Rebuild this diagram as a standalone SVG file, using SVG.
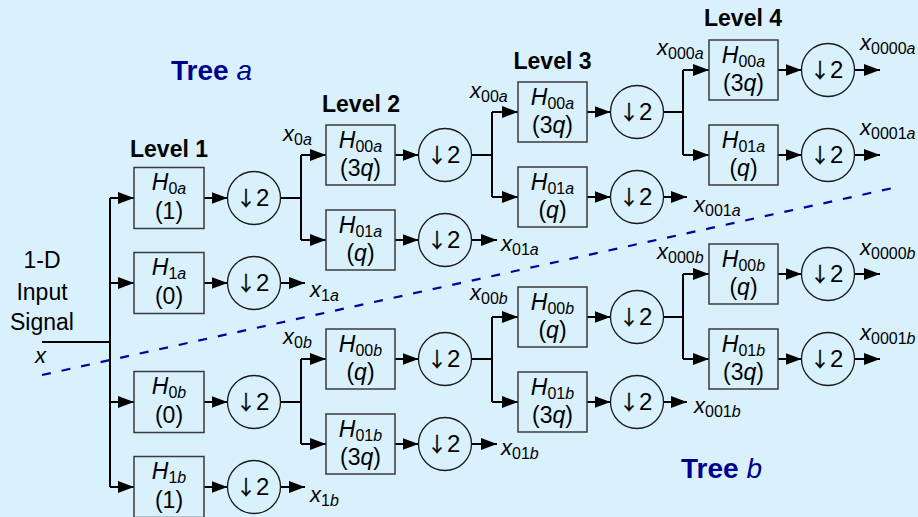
<svg xmlns="http://www.w3.org/2000/svg" width="918" height="517" viewBox="0 0 918 517">
  <defs>
    <marker id="ah" markerUnits="userSpaceOnUse" markerWidth="16" markerHeight="12" refX="16" refY="6" orient="auto">
      <path d="M0,0 L16,6 L0,12 z" fill="#000"/>
    </marker>
    <style>
      text { font-family: "Liberation Sans", Arial, Helvetica, sans-serif; fill: #000; }
      .box { fill: none; stroke: #3a3a3a; stroke-width: 1.5; }
      .dn { fill: none; stroke: #1a1a1a; stroke-width: 1.3; }
      .w { fill: none; stroke: #000; stroke-width: 2; }
      .ar { marker-end: url(#ah); }
      .t { font-size: 23px; text-anchor: middle; }
      .d { font-size: 24px; }
      .d .arw { font-family: "Noto Sans CJK JP", "Noto Sans CJK SC", sans-serif; font-size: 20px; font-weight: 400; stroke: #000; stroke-width: 0.35px; }
      .i { font-style: italic; }
      .s { font-size: 16px; }
      .lv { font-size: 23px; font-weight: bold; text-anchor: middle; }
      .tree { font-size: 28px; font-weight: bold; fill: #00008f; }
      .tree .i { font-weight: normal; }
      .sig { font-size: 23px; text-anchor: middle; }
      .lab { font-size: 22px; }
      .split { fill: none; stroke: #0000a0; stroke-width: 2.2; stroke-dasharray: 9 11; }
    </style>
  </defs>

  <rect width="918" height="517" fill="#d9f1fd"/>

  <!-- headings -->
  <g id="headings">
    <text class="tree" x="171" y="80">Tree <tspan class="i">a</tspan></text>
    <text class="tree" x="681" y="478">Tree <tspan class="i">b</tspan></text>
    <text class="lv" x="169" y="157">Level 1</text>
    <text class="lv" x="361" y="112">Level 2</text>
    <text class="lv" x="552.5" y="69">Level 3</text>
    <text class="lv" x="743" y="26">Level 4</text>
  </g>

  <!-- input -->
  <g id="input">
    <text class="sig" x="42" y="268">1-D</text>
    <text class="sig" x="42" y="300">Input</text>
    <text class="sig" x="42" y="330">Signal</text>
    <text class="lab i" x="35" y="363">x</text>
  </g>

  <!-- boundary between the two trees -->
  <path class="split" d="M42,375 L893,188"/>

  <!-- connectors -->
  <g id="connectors">
    <!-- level 1 -->
    <path class="w" d="M42,342 H110 M110,198 V487"/>
    <path class="w ar" d="M110,198 H134"/>
    <path class="w ar" d="M110,283 H134"/>
    <path class="w ar" d="M110,402 H134"/>
    <path class="w ar" d="M110,487 H134"/>
    <path class="w ar" d="M204,198 H227.5"/>
    <path class="w ar" d="M204,283 H227.5"/>
    <path class="w ar" d="M204,402 H227.5"/>
    <path class="w ar" d="M204,487 H227.5"/>
    <path class="w" d="M280.5,198 H301 M301,155 V240 M280.5,402 H301 M301,359 V444"/>
    <path class="w ar" d="M280.5,283 H305"/>
    <path class="w ar" d="M280.5,487 H305"/>
    <!-- level 2 -->
    <path class="w ar" d="M301,155 H326"/>
    <path class="w ar" d="M301,240 H326"/>
    <path class="w ar" d="M301,359 H326"/>
    <path class="w ar" d="M301,444 H326"/>
    <path class="w ar" d="M395,155 H418.5"/>
    <path class="w ar" d="M395,240 H418.5"/>
    <path class="w ar" d="M395,359 H418.5"/>
    <path class="w ar" d="M395,444 H418.5"/>
    <path class="w" d="M471.5,155 H492 M492,112 V197 M471.5,359 H492 M492,317 V402"/>
    <path class="w ar" d="M471.5,240 H497"/>
    <path class="w ar" d="M471.5,444 H497"/>
    <!-- level 3 -->
    <path class="w ar" d="M492,112 H518"/>
    <path class="w ar" d="M492,197 H518"/>
    <path class="w ar" d="M492,317 H518"/>
    <path class="w ar" d="M492,402 H518"/>
    <path class="w ar" d="M587,112 H610.5"/>
    <path class="w ar" d="M587,197 H610.5"/>
    <path class="w ar" d="M587,317 H610.5"/>
    <path class="w ar" d="M587,402 H610.5"/>
    <path class="w" d="M663.5,112 H683 M683,70 V155 M663.5,317 H683 M683,274 V359"/>
    <path class="w ar" d="M663.5,197 H687"/>
    <path class="w ar" d="M663.5,402 H687"/>
    <!-- level 4 -->
    <path class="w ar" d="M683,70 H709"/>
    <path class="w ar" d="M683,155 H709"/>
    <path class="w ar" d="M683,274 H709"/>
    <path class="w ar" d="M683,359 H709"/>
    <path class="w ar" d="M778,70 H801.5"/>
    <path class="w ar" d="M778,155 H801.5"/>
    <path class="w ar" d="M778,274 H801.5"/>
    <path class="w ar" d="M778,359 H801.5"/>
    <path class="w ar" d="M854.5,70 H880"/>
    <path class="w ar" d="M854.5,155 H880"/>
    <path class="w ar" d="M854.5,274 H880"/>
    <path class="w ar" d="M854.5,359 H880"/>
  </g>

  <!-- signal labels -->
  <g id="signals">
    <text class="lab" x="283" y="141"><tspan class="i">x</tspan><tspan class="s" dy="4">0</tspan><tspan class="s i">a</tspan></text>
    <text class="lab" x="283" y="344"><tspan class="i">x</tspan><tspan class="s" dy="4">0</tspan><tspan class="s i">b</tspan></text>
    <text class="lab" x="310" y="297"><tspan class="i">x</tspan><tspan class="s" dy="4">1</tspan><tspan class="s i">a</tspan></text>
    <text class="lab" x="310" y="502"><tspan class="i">x</tspan><tspan class="s" dy="4">1</tspan><tspan class="s i">b</tspan></text>
    <text class="lab" x="470" y="98"><tspan class="i">x</tspan><tspan class="s" dy="4">00</tspan><tspan class="s i">a</tspan></text>
    <text class="lab" x="470" y="300"><tspan class="i">x</tspan><tspan class="s" dy="4">00</tspan><tspan class="s i">b</tspan></text>
    <text class="lab" x="501" y="251"><tspan class="i">x</tspan><tspan class="s" dy="4">01</tspan><tspan class="s i">a</tspan></text>
    <text class="lab" x="501" y="455"><tspan class="i">x</tspan><tspan class="s" dy="4">01</tspan><tspan class="s i">b</tspan></text>
    <text class="lab" x="657" y="55"><tspan class="i">x</tspan><tspan class="s" dy="4">000</tspan><tspan class="s i">a</tspan></text>
    <text class="lab" x="657" y="259"><tspan class="i">x</tspan><tspan class="s" dy="4">000</tspan><tspan class="s i">b</tspan></text>
    <text class="lab" x="694" y="212"><tspan class="i">x</tspan><tspan class="s" dy="4">001</tspan><tspan class="s i">a</tspan></text>
    <text class="lab" x="694" y="413"><tspan class="i">x</tspan><tspan class="s" dy="4">001</tspan><tspan class="s i">b</tspan></text>
    <text class="lab" x="860" y="50"><tspan class="i">x</tspan><tspan class="s" dy="4">0000</tspan><tspan class="s i">a</tspan></text>
    <text class="lab" x="860" y="135"><tspan class="i">x</tspan><tspan class="s" dy="4">0001</tspan><tspan class="s i">a</tspan></text>
    <text class="lab" x="860" y="255"><tspan class="i">x</tspan><tspan class="s" dy="4">0000</tspan><tspan class="s i">b</tspan></text>
    <text class="lab" x="860" y="340"><tspan class="i">x</tspan><tspan class="s" dy="4">0001</tspan><tspan class="s i">b</tspan></text>
  </g>

  <!-- level 1 filters -->
  <g id="L1-H0a"><rect class="box" x="134" y="167.5" width="70" height="61"/>
    <text class="t" x="169" y="190"><tspan class="i">H</tspan><tspan class="s" dy="4">0</tspan><tspan class="s i">a</tspan></text>
    <text class="t" x="169" y="218.5">(1)</text></g>
  <g id="L1-H1a"><rect class="box" x="134" y="252.5" width="70" height="61"/>
    <text class="t" x="169" y="275"><tspan class="i">H</tspan><tspan class="s" dy="4">1</tspan><tspan class="s i">a</tspan></text>
    <text class="t" x="169" y="303.5">(0)</text></g>
  <g id="L1-H0b"><rect class="box" x="134" y="371.5" width="70" height="61"/>
    <text class="t" x="169" y="394"><tspan class="i">H</tspan><tspan class="s" dy="4">0</tspan><tspan class="s i">b</tspan></text>
    <text class="t" x="169" y="422.5">(0)</text></g>
  <g id="L1-H1b"><rect class="box" x="134" y="456.5" width="70" height="61"/>
    <text class="t" x="169" y="479"><tspan class="i">H</tspan><tspan class="s" dy="4">1</tspan><tspan class="s i">b</tspan></text>
    <text class="t" x="169" y="507.5">(1)</text></g>
  <g id="L1-D0a"><circle class="dn" cx="254" cy="198" r="26.5"/><text class="d" x="236" y="206"><tspan class="arw">↓</tspan>2</text></g>
  <g id="L1-D1a"><circle class="dn" cx="254" cy="283" r="26.5"/><text class="d" x="236" y="291"><tspan class="arw">↓</tspan>2</text></g>
  <g id="L1-D0b"><circle class="dn" cx="254" cy="402" r="26.5"/><text class="d" x="236" y="410"><tspan class="arw">↓</tspan>2</text></g>
  <g id="L1-D1b"><circle class="dn" cx="254" cy="487" r="26.5"/><text class="d" x="236" y="495"><tspan class="arw">↓</tspan>2</text></g>

  <!-- level 2 filters -->
  <g id="L2-H00a"><rect class="box" x="326" y="125" width="69" height="60"/>
    <text class="t" x="360.5" y="147.5"><tspan class="i">H</tspan><tspan class="s" dy="4">00</tspan><tspan class="s i">a</tspan></text>
    <text class="t" x="360.5" y="176">(3<tspan class="i">q</tspan>)</text></g>
  <g id="L2-H01a"><rect class="box" x="326" y="210" width="69" height="60"/>
    <text class="t" x="360.5" y="232.5"><tspan class="i">H</tspan><tspan class="s" dy="4">01</tspan><tspan class="s i">a</tspan></text>
    <text class="t" x="360.5" y="261">(<tspan class="i">q</tspan>)</text></g>
  <g id="L2-H00b"><rect class="box" x="326" y="329" width="69" height="60"/>
    <text class="t" x="360.5" y="351.5"><tspan class="i">H</tspan><tspan class="s" dy="4">00</tspan><tspan class="s i">b</tspan></text>
    <text class="t" x="360.5" y="380">(<tspan class="i">q</tspan>)</text></g>
  <g id="L2-H01b"><rect class="box" x="326" y="414" width="69" height="60"/>
    <text class="t" x="360.5" y="436.5"><tspan class="i">H</tspan><tspan class="s" dy="4">01</tspan><tspan class="s i">b</tspan></text>
    <text class="t" x="360.5" y="465">(3<tspan class="i">q</tspan>)</text></g>
  <g id="L2-D00a"><circle class="dn" cx="445" cy="155" r="26.5"/><text class="d" x="427" y="163"><tspan class="arw">↓</tspan>2</text></g>
  <g id="L2-D01a"><circle class="dn" cx="445" cy="240" r="26.5"/><text class="d" x="427" y="248"><tspan class="arw">↓</tspan>2</text></g>
  <g id="L2-D00b"><circle class="dn" cx="445" cy="359" r="26.5"/><text class="d" x="427" y="367"><tspan class="arw">↓</tspan>2</text></g>
  <g id="L2-D01b"><circle class="dn" cx="445" cy="444" r="26.5"/><text class="d" x="427" y="452"><tspan class="arw">↓</tspan>2</text></g>

  <!-- level 3 filters -->
  <g id="L3-H00a"><rect class="box" x="518" y="82" width="69" height="60"/>
    <text class="t" x="552.5" y="104.5"><tspan class="i">H</tspan><tspan class="s" dy="4">00</tspan><tspan class="s i">a</tspan></text>
    <text class="t" x="552.5" y="133">(3<tspan class="i">q</tspan>)</text></g>
  <g id="L3-H01a"><rect class="box" x="518" y="167" width="69" height="60"/>
    <text class="t" x="552.5" y="189.5"><tspan class="i">H</tspan><tspan class="s" dy="4">01</tspan><tspan class="s i">a</tspan></text>
    <text class="t" x="552.5" y="218">(<tspan class="i">q</tspan>)</text></g>
  <g id="L3-H00b"><rect class="box" x="518" y="287" width="69" height="60"/>
    <text class="t" x="552.5" y="309.5"><tspan class="i">H</tspan><tspan class="s" dy="4">00</tspan><tspan class="s i">b</tspan></text>
    <text class="t" x="552.5" y="338">(<tspan class="i">q</tspan>)</text></g>
  <g id="L3-H01b"><rect class="box" x="518" y="372" width="69" height="60"/>
    <text class="t" x="552.5" y="394.5"><tspan class="i">H</tspan><tspan class="s" dy="4">01</tspan><tspan class="s i">b</tspan></text>
    <text class="t" x="552.5" y="423">(3<tspan class="i">q</tspan>)</text></g>
  <g id="L3-D00a"><circle class="dn" cx="637" cy="112" r="26.5"/><text class="d" x="619" y="120"><tspan class="arw">↓</tspan>2</text></g>
  <g id="L3-D01a"><circle class="dn" cx="637" cy="197" r="26.5"/><text class="d" x="619" y="205"><tspan class="arw">↓</tspan>2</text></g>
  <g id="L3-D00b"><circle class="dn" cx="637" cy="317" r="26.5"/><text class="d" x="619" y="325"><tspan class="arw">↓</tspan>2</text></g>
  <g id="L3-D01b"><circle class="dn" cx="637" cy="402" r="26.5"/><text class="d" x="619" y="410"><tspan class="arw">↓</tspan>2</text></g>

  <!-- level 4 filters -->
  <g id="L4-H00a"><rect class="box" x="709" y="40" width="69" height="60"/>
    <text class="t" x="743.5" y="62.5"><tspan class="i">H</tspan><tspan class="s" dy="4">00</tspan><tspan class="s i">a</tspan></text>
    <text class="t" x="743.5" y="91">(3<tspan class="i">q</tspan>)</text></g>
  <g id="L4-H01a"><rect class="box" x="709" y="125" width="69" height="60"/>
    <text class="t" x="743.5" y="147.5"><tspan class="i">H</tspan><tspan class="s" dy="4">01</tspan><tspan class="s i">a</tspan></text>
    <text class="t" x="743.5" y="176">(<tspan class="i">q</tspan>)</text></g>
  <g id="L4-H00b"><rect class="box" x="709" y="244" width="69" height="60"/>
    <text class="t" x="743.5" y="266.5"><tspan class="i">H</tspan><tspan class="s" dy="4">00</tspan><tspan class="s i">b</tspan></text>
    <text class="t" x="743.5" y="295">(<tspan class="i">q</tspan>)</text></g>
  <g id="L4-H01b"><rect class="box" x="709" y="329" width="69" height="60"/>
    <text class="t" x="743.5" y="351.5"><tspan class="i">H</tspan><tspan class="s" dy="4">01</tspan><tspan class="s i">b</tspan></text>
    <text class="t" x="743.5" y="380">(3<tspan class="i">q</tspan>)</text></g>
  <g id="L4-D00a"><circle class="dn" cx="828" cy="70" r="26.5"/><text class="d" x="810" y="78"><tspan class="arw">↓</tspan>2</text></g>
  <g id="L4-D01a"><circle class="dn" cx="828" cy="155" r="26.5"/><text class="d" x="810" y="163"><tspan class="arw">↓</tspan>2</text></g>
  <g id="L4-D00b"><circle class="dn" cx="828" cy="274" r="26.5"/><text class="d" x="810" y="282"><tspan class="arw">↓</tspan>2</text></g>
  <g id="L4-D01b"><circle class="dn" cx="828" cy="359" r="26.5"/><text class="d" x="810" y="367"><tspan class="arw">↓</tspan>2</text></g>
</svg>
